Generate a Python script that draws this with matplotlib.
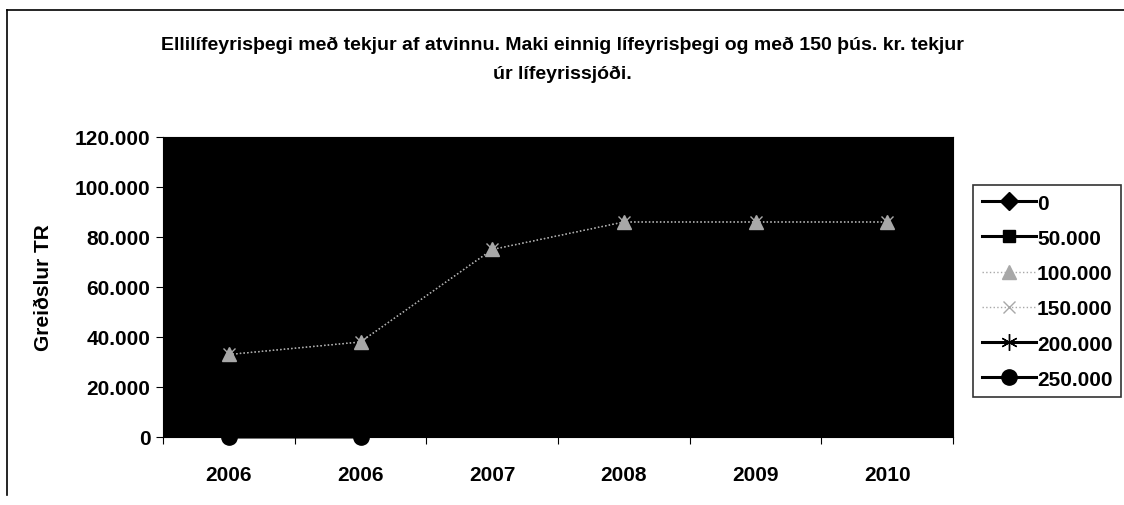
import matplotlib.pyplot as plt
from matplotlib.lines import Line2D

# Flokkar (ár) og greiðslur TR eftir tekjum af atvinnu
years = ["2006", "2006", "2007", "2008", "2009", "2010"]
s_0 = [52000, 56000, 88000, 98000, 98000, 98000]
s_50 = [45000, 49000, 83000, 93000, 93000, 93000]
s_100 = [33000, 38000, 75000, 86000, 86000, 86000]
s_150 = [33000, 38000, 75000, 86000, 86000, 86000]
s_200 = [10000, 20000, 55000, 70000, 70000, 70000]
s_250 = [0, 0, 40000, 60000, 60000, 60000]
labels = ["0", "50.000", "100.000", "150.000", "200.000", "250.000"]

plt.rcParams['font.family'] = ['Liberation Sans', 'DejaVu Sans']
plt.rcParams['font.weight'] = 'bold'

fig = plt.figure(figsize=(11.24, 5.06), dpi=100)
ax = fig.add_axes([0.145, 0.1344, 0.703, 0.5929])
ax.set_facecolor("black")

x = list(range(len(years)))
styles = [
    (s_0, "black", "D", 9, 2.2),
    (s_50, "black", "s", 9, 2.2),
    (s_100, "#a8a8a8", "^", 10, 1),
    (s_150, "#a8a8a8", "x", 9, 1),
    (s_200, "black", (6, 2, 0), 12, 2.2),
    (s_250, "black", "o", 11, 2.2),
]
for (vals, col, mk, ms, lw), lab in zip(styles, labels):
    ax.plot(x, vals, color=col, marker=mk, markersize=ms, linewidth=lw,
            linestyle=":" if col != "black" else "-",
            markeredgecolor=col, markerfacecolor=col, label=lab, clip_on=False)

ax.set_xlim(-0.5, len(years) - 0.5)
ax.set_ylim(0, 120000)
ax.set_yticks(range(0, 120001, 20000))
ax.set_yticklabels([f"{v:,}".replace(",", ".") for v in range(0, 120001, 20000)])
ax.set_xticks([i - 0.5 for i in range(len(years) + 1)])
ax.set_xticklabels([])
ax.set_xticks(x, minor=True)
ax.set_xticklabels(years, minor=True)
ax.tick_params(axis="x", which="minor", length=0, pad=20, labelsize=15)
ax.tick_params(axis="x", which="major", length=5, direction="out")
ax.tick_params(axis="y", length=5, labelsize=15, pad=4)
ax.set_ylabel("Greiðslur TR", fontsize=15, fontweight="bold", labelpad=16)

fig.text(0.5, 0.91, "Ellilífeyrisþegi með tekjur af atvinnu. Maki einnig lífeyrisþegi og með 150 þús. kr. tekjur",
         ha="center", va="center", fontsize=14, fontweight="bold")
fig.text(0.5, 0.853, "úr lífeyrissjóði.", ha="center", va="center",
         fontsize=14, fontweight="bold")

leg = ax.legend(loc="upper left", bbox_to_anchor=(0.866, 0.632),
                bbox_transform=fig.transFigure, fontsize=15, frameon=True,
                fancybox=False, edgecolor="black", handlelength=2.6,
                handletextpad=0.05, borderpad=0.4, borderaxespad=0,
                labelspacing=0.78)
leg.get_frame().set_linewidth(1.2)

# ramminn utan um myndina
fig.add_artist(Line2D([0.006, 1.0], [0.978, 0.978], color="black", linewidth=1.2))
fig.add_artist(Line2D([0.006, 0.006], [0.02, 0.978], color="black", linewidth=1.2))

fig.savefig("out.png", dpi=100)
